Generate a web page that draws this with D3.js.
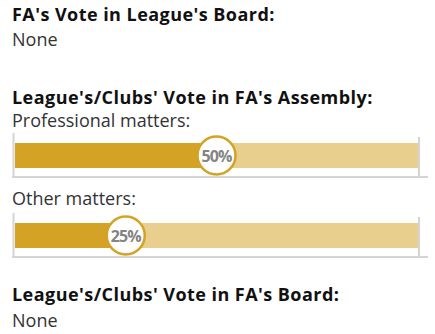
<!DOCTYPE html>
<html>
<head>
<meta charset="utf-8">
<script src="https://cdn.jsdelivr.net/npm/d3@7"></script>
<style>
  body { margin: 0; background: #fff; }
  text { font-family: "Open Sans", Lato, sans-serif; }
</style>
</head>
<body>
<div id="viz-container"></div>
<script>
// headings + values
const headings = ["FA's Vote in League's Board:", "League's/Clubs' Vote in FA's Assembly:", "League's/Clubs' Vote in FA's Board:"];
const noneLabels = ["None", "None"];
const barLabels = ["Professional matters:", "Other matters:"];
const barValues = [50, 25];

const W = 435, H = 334;
const viz = d3.select('#viz-container')
  .append('svg')
    .attr('width', W)
    .attr('height', H);

const gold = '#d4a224', lightGold = '#e8cf8e', grey = '#d4d4d4';
const x0 = 15, x1 = 418, r = 19;

const x = d3.scaleLinear().domain([0, 100]).range([x0, x1]);
const cx = d3.scaleLinear().domain([0, 100]).range([x0 + r + 1, x1 - r - 1]);

const heading = (t, y) => viz.append('text')
  .attr('x', 12).attr('y', y)
  .attr('font-size', 18).attr('font-weight', 700)
  .attr('letter-spacing', 0.45)
  .attr('fill', '#111')
  .text(t);

const plain = (t, y) => viz.append('text')
  .attr('x', 12).attr('y', y)
  .attr('font-size', 18)
  .attr('fill', '#333')
  .text(t);

heading(headings[0], 21);
plain(noneLabels[0], 46);
heading(headings[1], 104);
heading(headings[2], 301);
plain(noneLabels[1], 327);

const barTops = [143, 223];
const bars = viz.selectAll('g.bar').data(barValues).enter()
  .append('g').attr('class', 'bar')
  .attr('transform', (d, i) => `translate(0,${barTops[i]})`);

bars.append('text')
  .attr('x', 12).attr('y', (d, i) => i === 0 ? -16 : -18)
  .attr('font-size', 18).attr('fill', '#333')
  .text((d, i) => barLabels[i]);

// frame lines
bars.append('rect')
  .attr('x', 12.5).attr('y', -10).attr('width', 2).attr('height', 45)
  .attr('fill', grey);
bars.append('rect')
  .attr('x', x1).attr('y', -6).attr('width', 2).attr('height', 41)
  .attr('fill', grey);
bars.append('rect')
  .attr('x', 12).attr('y', 33).attr('width', 416).attr('height', 2)
  .attr('fill', grey);

bars.append('rect')
  .attr('x', x(0)).attr('y', 0)
  .attr('width', x(100) - x(0)).attr('height', 25)
  .attr('fill', lightGold);
bars.append('rect')
  .attr('x', x(0)).attr('y', 0)
  .attr('width', d => cx(d) - x(0)).attr('height', 25)
  .attr('fill', gold);

bars.append('circle')
  .attr('cx', d => cx(d)).attr('cy', 12.5)
  .attr('r', r)
  .attr('fill', '#fff')
  .attr('stroke', gold)
  .attr('stroke-width', 2.5);

bars.append('text')
  .attr('x', d => cx(d)).attr('y', 18.5)
  .attr('text-anchor', 'middle')
  .attr('font-family', 'Roboto, sans-serif')
  .attr('font-size', 16).attr('font-weight', 700)
  .attr('letter-spacing', -0.9)
  .attr('fill', '#848484')
  .text(d => d + '%');
</script>
</body>
</html>
